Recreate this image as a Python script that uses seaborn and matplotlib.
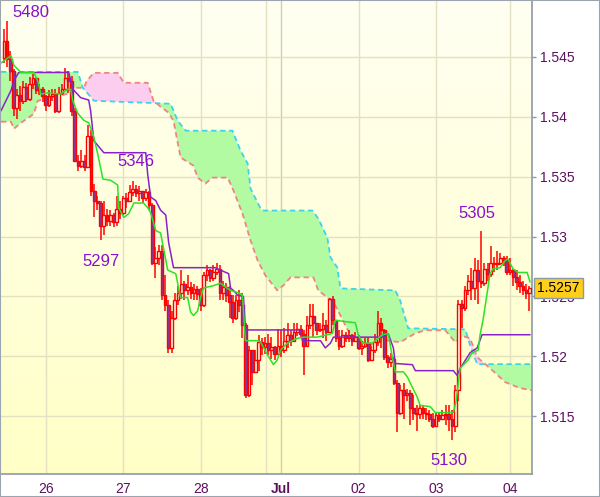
import numpy as np
import seaborn as sns
import matplotlib
matplotlib.use('Agg')
import matplotlib.pyplot as plt
from matplotlib.colors import LinearSegmentedColormap
from matplotlib.patches import Rectangle
from matplotlib.transforms import blended_transform_factory

sns.set_style("white")
plt.rcParams['font.family'] = ['Liberation Sans', 'DejaVu Sans']

# hourly bars, bar 0 = the 26th 00:00
bar_start, bar_end = -13, 150
first_open = 1.5449
close = [1.5463, 1.5448, 1.5438, 1.5407, 1.5418, 1.5413, 1.5425, 1.5415, 1.5427, 1.5432,
         1.5422, 1.5423, 1.5417, 1.5410, 1.5417, 1.5419, 1.5405, 1.5420, 1.5423, 1.5432,
         1.5430, 1.5405, 1.5363, 1.5359, 1.5363, 1.5358, 1.5384, 1.5338, 1.5330, 1.5328,
         1.5309, 1.5318, 1.5313, 1.5318, 1.5312, 1.5323, 1.5320, 1.5332, 1.5330, 1.5337,
         1.5340, 1.5336, 1.5338, 1.5332, 1.5337, 1.5326, 1.5278, 1.5282, 1.5288, 1.5251,
         1.5243, 1.5207, 1.5232, 1.5247, 1.5253, 1.5260, 1.5255, 1.5258, 1.5253, 1.5256,
         1.5252, 1.5243, 1.5268, 1.5272, 1.5265, 1.5270, 1.5273, 1.5253, 1.5258, 1.5251,
         1.5245, 1.5232, 1.5247, 1.5243, 1.5226, 1.5168, 1.5205, 1.5187, 1.5197, 1.5212,
         1.5208, 1.5211, 1.5205, 1.5208, 1.5202, 1.5209, 1.5205, 1.5213, 1.5218, 1.5213,
         1.5220, 1.5223, 1.5219, 1.5209, 1.5226, 1.5234, 1.5228, 1.5222, 1.5223, 1.5226,
         1.5220, 1.5248, 1.5230, 1.5215, 1.5209, 1.5218, 1.5215, 1.5218, 1.5213, 1.5216,
         1.5207, 1.5209, 1.5211, 1.5197, 1.5205, 1.5212, 1.5228, 1.5222, 1.5199, 1.5195,
         1.5198, 1.5178, 1.5153, 1.5172, 1.5168, 1.5169, 1.5157, 1.5153, 1.5152, 1.5157,
         1.5153, 1.5152, 1.5148, 1.5142, 1.5151, 1.5148, 1.5151, 1.5152, 1.5148, 1.5142,
         1.5172, 1.5244, 1.5240, 1.5255, 1.5263, 1.5257, 1.5272, 1.5263, 1.5261, 1.5273,
         1.5269, 1.5278, 1.5277, 1.5278, 1.5282, 1.5280, 1.5270, 1.5272, 1.5266, 1.5262,
         1.5259, 1.5255, 1.5253, 1.5257]
high = [1.5473, 1.5480, 1.5455, 1.5440, 1.5423, 1.5426, 1.5430, 1.5428, 1.5433, 1.5436,
        1.5432, 1.5427, 1.5425, 1.5418, 1.5422, 1.5423, 1.5423, 1.5425, 1.5427, 1.5441,
        1.5438, 1.5434, 1.5407, 1.5368, 1.5372, 1.5368, 1.5393, 1.5389, 1.5344, 1.5334,
        1.5330, 1.5330, 1.5323, 1.5322, 1.5320, 1.5334, 1.5330, 1.5334, 1.5336, 1.5343,
        1.5346, 1.5343, 1.5342, 1.5338, 1.5340, 1.5338, 1.5328, 1.5291, 1.5293, 1.5293,
        1.5268, 1.5247, 1.5238, 1.5253, 1.5259, 1.5272, 1.5263, 1.5268, 1.5262, 1.5260,
        1.5259, 1.5257, 1.5270, 1.5276, 1.5273, 1.5276, 1.5278, 1.5276, 1.5263, 1.5261,
        1.5259, 1.5251, 1.5251, 1.5255, 1.5253, 1.5228, 1.5209, 1.5205, 1.5205, 1.5218,
        1.5215, 1.5216, 1.5219, 1.5216, 1.5209, 1.5223, 1.5222, 1.5224, 1.5228, 1.5222,
        1.5228, 1.5228, 1.5226, 1.5222, 1.5234, 1.5244, 1.5244, 1.5228, 1.5228, 1.5236,
        1.5230, 1.5249, 1.5250, 1.5230, 1.5222, 1.5222, 1.5220, 1.5222, 1.5219, 1.5220,
        1.5218, 1.5213, 1.5215, 1.5215, 1.5209, 1.5219, 1.5238, 1.5232, 1.5223, 1.5201,
        1.5203, 1.5199, 1.5180, 1.5176, 1.5178, 1.5173, 1.5172, 1.5168, 1.5159, 1.5159,
        1.5159, 1.5157, 1.5155, 1.5153, 1.5153, 1.5153, 1.5155, 1.5159, 1.5159, 1.5155,
        1.5176, 1.5247, 1.5247, 1.5259, 1.5268, 1.5274, 1.5282, 1.5280, 1.5305, 1.5278,
        1.5278, 1.5292, 1.5283, 1.5288, 1.5286, 1.5284, 1.5284, 1.5282, 1.5273, 1.5272,
        1.5268, 1.5263, 1.5260, 1.5259]
low = [1.5445, 1.5442, 1.5430, 1.5401, 1.5398, 1.5405, 1.5411, 1.5412, 1.5413, 1.5423,
       1.5419, 1.5418, 1.5412, 1.5405, 1.5408, 1.5413, 1.5403, 1.5403, 1.5418, 1.5422,
       1.5420, 1.5401, 1.5362, 1.5355, 1.5357, 1.5355, 1.5357, 1.5334, 1.5316, 1.5322,
       1.5297, 1.5301, 1.5309, 1.5309, 1.5308, 1.5309, 1.5315, 1.5318, 1.5324, 1.5330,
       1.5334, 1.5333, 1.5330, 1.5328, 1.5330, 1.5322, 1.5276, 1.5265, 1.5276, 1.5247,
       1.5238, 1.5203, 1.5203, 1.5230, 1.5243, 1.5248, 1.5247, 1.5251, 1.5248, 1.5247,
       1.5247, 1.5238, 1.5241, 1.5263, 1.5262, 1.5263, 1.5268, 1.5247, 1.5247, 1.5245,
       1.5232, 1.5228, 1.5230, 1.5237, 1.5215, 1.5165, 1.5166, 1.5176, 1.5186, 1.5188,
       1.5201, 1.5202, 1.5201, 1.5198, 1.5197, 1.5201, 1.5199, 1.5203, 1.5207, 1.5209,
       1.5212, 1.5217, 1.5215, 1.5184, 1.5209, 1.5223, 1.5216, 1.5218, 1.5220, 1.5215,
       1.5213, 1.5220, 1.5226, 1.5212, 1.5205, 1.5207, 1.5212, 1.5212, 1.5209, 1.5212,
       1.5205, 1.5201, 1.5207, 1.5195, 1.5197, 1.5203, 1.5209, 1.5207, 1.5197, 1.5190,
       1.5191, 1.5176, 1.5137, 1.5151, 1.5148, 1.5163, 1.5143, 1.5147, 1.5138, 1.5148,
       1.5148, 1.5147, 1.5145, 1.5140, 1.5141, 1.5145, 1.5147, 1.5143, 1.5138, 1.5130,
       1.5137, 1.5163, 1.5224, 1.5238, 1.5251, 1.5247, 1.5247, 1.5244, 1.5257, 1.5259,
       1.5263, 1.5266, 1.5270, 1.5272, 1.5276, 1.5275, 1.5268, 1.5268, 1.5259, 1.5255,
       1.5253, 1.5251, 1.5248, 1.5238]

# Ichimoku lines (vertices)
tenkan_x = [-13.9, -10.8, -9.9, -7.7, -3.7, -2.5, -1.5, 0.6, 4.6, 6.8, 7.7, 8.4, 9.9, 11.8,
            13.3, 14.6, 16.1, 17.7, 20.1, 22.3, 22.6, 24.2, 25.7, 27.3, 30.3, 31.6, 32.5,
            34.1, 35.6, 37.8, 40.3, 41.8, 44.0, 44.9, 45.8, 47.1, 48.0, 48.9, 52.0, 54.2,
            55.1, 57.3, 59.8, 61.0, 61.9, 65.7, 66.6, 68.8, 70.6, 71.8, 72.8, 74.9, 78.0,
            79.9, 84.2, 87.3, 88.9, 89.8, 96.0, 96.9, 98.2, 101.3, 104.4, 106.2, 107.5,
            108.4, 110.9, 112.1, 113.7, 115.2, 116.1, 119.2, 120.8, 123.9, 126.4, 127.3,
            128.5, 131.0, 132.2, 134.1, 134.7, 135.6, 136.9, 137.8, 138.7, 140.9, 142.5,
            143.4, 144.9, 146.5, 149.3, 150.2]
tenkan_y = [1.5445, 1.5451, 1.5443, 1.5437, 1.5437, 1.5430, 1.5419, 1.5420, 1.5419, 1.5423,
            1.5423, 1.5413, 1.5403, 1.5397, 1.5395, 1.5386, 1.5369, 1.5348, 1.5347, 1.5343,
            1.5324, 1.5316, 1.5319, 1.5328, 1.5328, 1.5324, 1.5320, 1.5305, 1.5303, 1.5272,
            1.5269, 1.5249, 1.5249, 1.5237, 1.5234, 1.5238, 1.5249, 1.5257, 1.5259, 1.5261,
            1.5259, 1.5255, 1.5253, 1.5251, 1.5213, 1.5213, 1.5212, 1.5201, 1.5193, 1.5197,
            1.5205, 1.5211, 1.5215, 1.5216, 1.5216, 1.5218, 1.5219, 1.5230, 1.5228, 1.5218,
            1.5211, 1.5211, 1.5218, 1.5219, 1.5199, 1.5187, 1.5187, 1.5183, 1.5174, 1.5166,
            1.5159, 1.5158, 1.5153, 1.5153, 1.5153, 1.5163, 1.5190, 1.5197, 1.5203, 1.5205,
            1.5218, 1.5230, 1.5253, 1.5269, 1.5273, 1.5274, 1.5280, 1.5281, 1.5273, 1.5270,
            1.5270, 1.5262]
kijun_x = [-13.9, -10.8, -9.9, -8.4, 7.1, 8.4, 10.8, 13.3, 13.9, 14.9, 18.0, 31.0, 31.6,
           32.5, 34.1, 35.6, 37.2, 38.1, 39.6, 52.6, 53.3, 56.7, 57.3, 58.2, 59.5, 61.3,
           61.9, 79.0, 79.6, 85.2, 86.7, 88.3, 89.2, 89.8, 104.4, 106.2, 107.8, 108.4,
           113.7, 114.6, 126.4, 127.6, 128.5, 129.5, 131.6, 133.8, 135.3, 150.2]
kijun_y = [1.5405, 1.5422, 1.5430, 1.5437, 1.5437, 1.5423, 1.5416, 1.5414, 1.5405, 1.5380,
           1.5370, 1.5370, 1.5352, 1.5333, 1.5330, 1.5322, 1.5318, 1.5295, 1.5274, 1.5274,
           1.5273, 1.5269, 1.5257, 1.5255, 1.5251, 1.5250, 1.5222, 1.5222, 1.5213, 1.5213,
           1.5207, 1.5211, 1.5216, 1.5216, 1.5216, 1.5219, 1.5207, 1.5194, 1.5193, 1.5188,
           1.5188, 1.5184, 1.5190, 1.5194, 1.5203, 1.5207, 1.5218, 1.5218]
span_a_x = [-13.9, 9.9, 11.5, 14.9, 38.7, 40.9, 43.4, 57.9, 60.4, 62.6, 63.5, 66.6, 67.2,
            82.7, 84.5, 87.3, 88.3, 90.4, 91.4, 108.4, 109.9, 112.4, 130.1, 131.6, 133.8, 150.8]
span_a_y = [1.54375, 1.54375, 1.54242, 1.54134, 1.54109, 1.53967, 1.53884, 1.53884, 1.53717,
            1.53609, 1.53400, 1.53234, 1.53217, 1.53217, 1.53150, 1.52992, 1.52825, 1.52742,
            1.52567, 1.52550, 1.52467, 1.52234, 1.52225, 1.52092, 1.51934, 1.51934]
span_b_x = [-13.9, -10.8, -9.9, -7.7, -3.7, -2.5, 6.8, 7.7, 11.8, 12.7, 14.9, 22.3, 24.2,
            31.6, 33.4, 35.6, 38.1, 39.6, 41.8, 45.8, 47.1, 49.5, 51.7, 56.4, 58.2, 61.0,
            63.5, 65.7, 68.1, 71.8, 73.7, 75.9, 83.0, 84.5, 87.3, 89.8, 94.5, 100.0, 105.3,
            109.9, 114.6, 117.7, 123.9, 127.0, 129.5, 131.6, 133.8, 137.8, 142.5, 147.1, 150.8]
span_b_y = [1.53959, 1.53959, 1.53900, 1.53950, 1.54025, 1.54134, 1.54192, 1.54242, 1.54242,
            1.54300, 1.54367, 1.54367, 1.54284, 1.54284, 1.54134, 1.54084, 1.54034, 1.53967,
            1.53660, 1.53592, 1.53492, 1.53442, 1.53492, 1.53492, 1.53384, 1.53192, 1.52967,
            1.52800, 1.52675, 1.52550, 1.52592, 1.52659, 1.52659, 1.52550, 1.52492, 1.52425,
            1.52175, 1.52092, 1.52134, 1.52117, 1.52192, 1.52217, 1.52217, 1.52117, 1.52167,
            1.52150, 1.51992, 1.51900, 1.51784, 1.51734, 1.51717]

day_pos = [0, 24, 48, 73, 97, 121, 144]
day_labels = ['26', '27', '28', 'Jul', '02', '03', '04']
price_ticks = [1.515, 1.52, 1.525, 1.53, 1.535, 1.54, 1.545]
price_labels = ['1.515', '1.52', '1.525', '1.53', '1.535', '1.54', '1.545']
pivot_text = ['5480', '5346', '5297', '5305', '5130']
pivot_x = [-4.6, 27.9, 17.0, 133.8, 125.1]
pivot_y = [1.5487, 1.5363, 1.5279, 1.5319, 1.5113]

x_min, x_max = -13.9, 150.8
y_min, y_max = 1.51017, 1.54967

fig = plt.figure(figsize=(6.0, 4.97), dpi=100)
ax = fig.add_axes([1 / 600, 23 / 497, 531 / 600, 473 / 497])

# yellowish background gradient
bg = LinearSegmentedColormap.from_list('bg', ['#FFFFC6', '#FFFFF2'])
ax.imshow(np.linspace(0, 1, 256).reshape(-1, 1), cmap=bg, origin='lower', aspect='auto',
          extent=[x_min, x_max, y_min, y_max], zorder=0)

grid_col = '#E4E0C2'
ax.set_axisbelow(True)
ax.grid(True, color=grid_col, lw=1)
ax.axvline(68.4, color=grid_col, lw=1, zorder=0.5)

# cloud
xs = np.linspace(x_min, x_max, 3000)
sa = np.interp(xs, span_a_x, span_a_y)
sb = np.interp(xs, span_b_x, span_b_y)
ax.fill_between(xs, sa, sb, where=sa >= sb, interpolate=True, color='#B3FBA3', lw=0, zorder=1)
ax.fill_between(xs, sa, sb, where=sa < sb, interpolate=True, color='#FCCDEE', lw=0, zorder=1)
ax.plot(span_a_x, span_a_y, color='#3CD4EC', lw=1.3, dashes=(3, 2), zorder=2)
ax.plot(span_b_x, span_b_y, color='#F08484', lw=1.3, dashes=(3, 2), zorder=2)

# candles
bars = np.arange(bar_start, bar_end + 1)
c = np.array(close)
o = np.r_[first_open, c[:-1]]
ax.vlines(bars, low, high, color='#FF0000', lw=1.1, zorder=3)
body_lo = np.minimum(o, c)
body_h = np.maximum(np.abs(c - o), 0.00003)
fills = ['#FFFFE2' if cc >= oo else '#7040B0' for oo, cc in zip(o, c)]
ax.bar(bars, body_h, bottom=body_lo, width=0.85, color=fills, edgecolor='#FF0000',
       linewidth=1.0, zorder=4)

sns.lineplot(x=kijun_x, y=kijun_y, color='#8A22CC', lw=1.1, estimator=None, sort=False,
             ax=ax, zorder=5)
sns.lineplot(x=tenkan_x, y=tenkan_y, color='#2BE22B', lw=1.1, estimator=None, sort=False,
             ax=ax, zorder=5)

for t, px, py in zip(pivot_text, pivot_x, pivot_y):
    ax.text(px, py, t, ha='center', va='center', fontsize=12, color='#8A10D0', zorder=6)

ax.set_xlim(x_min, x_max)
ax.set_ylim(y_min, y_max)

ax.yaxis.tick_right()
ax.set_yticks(price_ticks, price_labels)
ax.set_xticks(day_pos, day_labels)
ax.tick_params(length=3, width=1, color='#8C9AA8', labelcolor='#5E1060', labelsize=10, pad=3)
ax.get_xticklabels()[3].set_fontweight('bold')
ax.xaxis.get_gridlines()[3].set_color('#D0CEB2')
ax.set_xlabel('')
ax.set_ylabel('')
for s in ['top', 'left']:
    ax.spines[s].set_visible(False)
for s in ['right', 'bottom']:
    ax.spines[s].set_color('#8C9AA8')
    ax.spines[s].set_linewidth(1.2)

# last price tag sits over the 1.525 label, as in the original
trans = blended_transform_factory(ax.transAxes, ax.transData)
ax.text(1 + 5 / 531, close[-1], f'{close[-1]:.4f}', transform=trans, ha='left', va='center',
        fontsize=10, color='black', clip_on=False, zorder=10,
        bbox=dict(boxstyle='square,pad=0.22', fc='#FFCF1A', ec='#8C9AA8', lw=1))

fig.patches.append(Rectangle((0, 0), 1, 1, transform=fig.transFigure, fill=False,
                             edgecolor='#9AA5B0', lw=1.5))

fig.savefig('out.png', dpi=100)
plt.close(fig)
